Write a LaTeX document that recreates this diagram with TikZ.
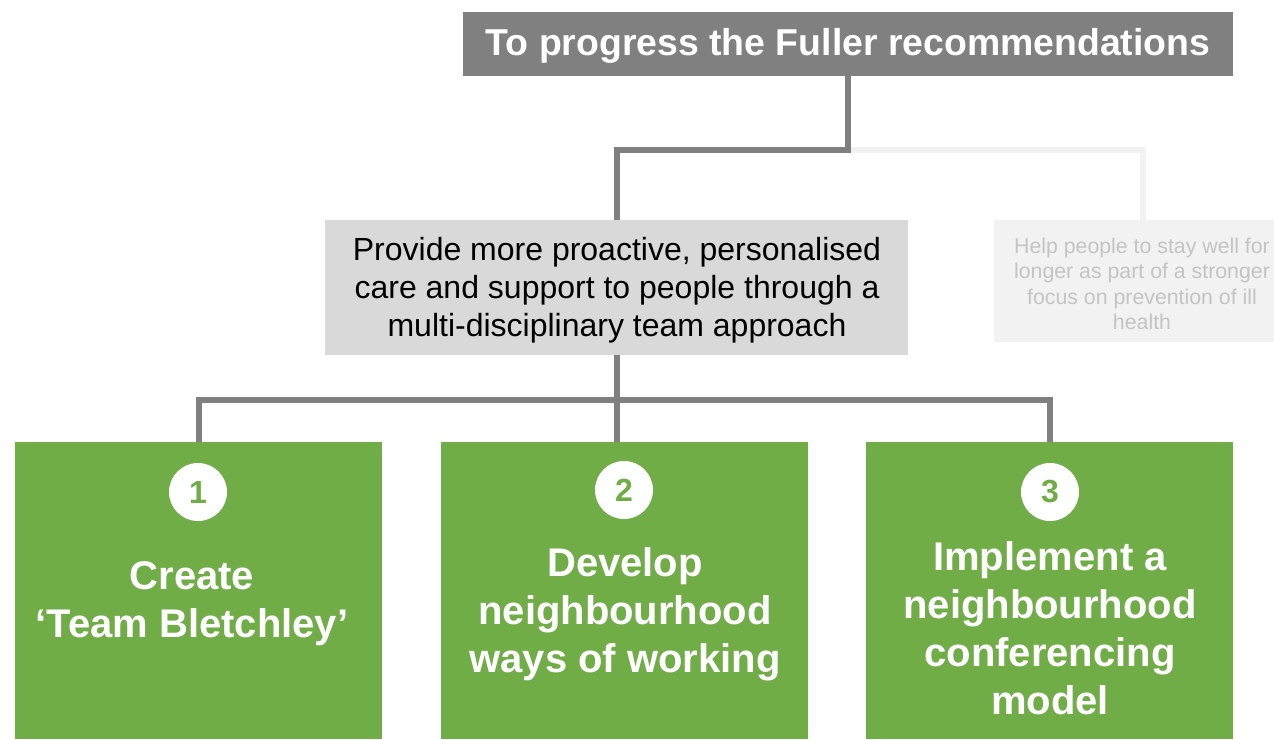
\documentclass[tikz,border=0pt]{standalone}
\usepackage{fontspec}
\setmainfont{Liberation Sans}
\definecolor{cgray}{HTML}{808080}
\definecolor{cmid}{HTML}{D9D9D9}
\definecolor{clight}{HTML}{F2F2F2}
\definecolor{clighttext}{HTML}{C4C4C4}
\definecolor{cgreen}{HTML}{70AD47}
\begin{document}
\begin{tikzpicture}[x=1pt,y=-1pt,
  conn/.style={draw=cgray,line width=6pt},
  connlight/.style={draw=clight,line width=6pt},
  greenbox/.style={fill=cgreen,minimum width=367pt,minimum height=297pt,inner sep=0pt,anchor=north west},
  numcirc/.style={circle,fill=white,minimum size=58pt,inner sep=0pt,text=cgreen,font=\fontsize{32}{32}\selectfont\bfseries},
  greentext/.style={text=white,align=center,font=\fontsize{40}{48}\selectfont\bfseries}]
\clip (0,0) rectangle (1274,739);
\fill[white] (0,0) rectangle (1274,739);
% boxes
\node[fill=cgray,minimum width=770pt,minimum height=64pt,inner sep=0pt,anchor=north west] (top) at (463,12) {};
\node[text=white,font=\fontsize{37.4}{40}\selectfont\bfseries] (toptext) at (848,46) {To progress the Fuller recommendations};
\node[fill=cmid,minimum width=583pt,minimum height=135pt,inner sep=0pt,anchor=north west] (mid) at (325,220) {};
\node[align=center,font=\fontsize{32}{38}\selectfont] (midtext) at (617,290) {Provide more proactive, personalised\\care and support to people through a\\multi-disciplinary team approach};
\node[fill=clight,minimum width=298pt,minimum height=122pt,inner sep=0pt,anchor=north west] (light) at (994,220) {};
\node[align=center,text=clighttext,font=\fontsize{21.3}{25.5}\selectfont] (lighttext) at (1142,284) {Help people to stay well for\\longer as part of a stronger\\focus on prevention of ill\\health};
\node[greenbox] (g1) at (15,442) {};
\node[greenbox] (g2) at (441,442) {};
\node[greenbox] (g3) at (866,442) {};
\node[numcirc] (c1) at (198,492) {1};
\node[numcirc] (c2) at (624,490) {2};
\node[numcirc] (c3) at (1050,492) {3};
\node[greentext] (t1) at (192,604) {Create\\‘Team Bletchley’};
\node[greentext] (t2) at (625,614) {Develop\\neighbourhood\\ways of working};
\node[greentext] (t3) at (1050,628) {Implement a\\neighbourhood\\conferencing\\model};
% connectors
\coordinate (h1) at (0,150);
\coordinate (h2) at (0,400);
\coordinate (lx) at (1143,220);
\draw[connlight] (top.south |- h1) -- (lx |- h1) -- (lx);
\draw[conn] (top.south) -- (top.south |- h1) -- (mid.north |- h1) -- (mid.north);
\draw[conn] (mid.south) -- (mid.south |- g2.north);
\draw[conn] (g1.north) -- (g1.north |- h2) -- (g3.north |- h2) -- (g3.north);
\end{tikzpicture}
\end{document}
